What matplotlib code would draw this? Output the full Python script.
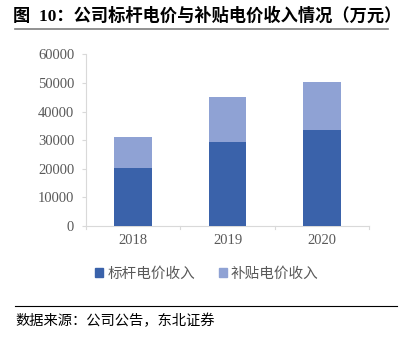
import matplotlib
matplotlib.use("Agg")
import matplotlib.pyplot as plt
from matplotlib.lines import Line2D
from matplotlib.patches import Patch

years = ["2018", "2019", "2020"]
benchmark = [20300, 29500, 33700]
subsidy = [10800, 15700, 16750]
series_names = ["标杆电价收入", "补贴电价收入"]
yticks = [0, 10000, 20000, 30000, 40000, 50000, 60000]

c_dark = "#3A62AA"
c_light = "#8FA2D4"
serif = ["Liberation Serif", "Noto Sans CJK SC"]
cjk = ["Noto Sans CJK SC", "DejaVu Sans"]

W, H = 403, 344
fig = plt.figure(figsize=(W / 100, H / 100), dpi=100)
ax = fig.add_axes([86 / W, 1 - 226 / H, (369 - 86) / W, (226 - 54.3) / H])

x = list(range(len(years)))
ax.bar(x, benchmark, width=0.4, color=c_dark, label=series_names[0], zorder=3)
ax.bar(x, subsidy, width=0.4, bottom=benchmark, color=c_light, label=series_names[1], zorder=3)

ax.set_xlim(-0.5, len(years) - 0.5)
ax.set_ylim(0, 60000)
ax.set_yticks(yticks)
ax.set_yticklabels([str(v) for v in yticks], fontfamily=serif, fontsize=10.5, color="#595959")
ax.set_xticks(x)
ax.set_xticklabels(years, fontfamily=serif, fontsize=10.5, color="#595959")
ax.tick_params(axis="x", length=0, pad=6)
ax.tick_params(axis="y", length=3, color="#D9D9D9", pad=5.5)
for b in [-0.5, 0.5, 1.5, 2.5]:
    ax.plot([b, b], [0, -1200], color="#D9D9D9", lw=0.8, clip_on=False, zorder=1)
for s in ["top", "right"]:
    ax.spines[s].set_visible(False)
ax.spines["left"].set_color("#D9D9D9")
ax.spines["bottom"].set_color("#D9D9D9")
ax.spines["left"].set_linewidth(0.8)
ax.spines["bottom"].set_linewidth(0.8)

handles = [Patch(color=c_dark), Patch(color=c_light)]
leg = fig.legend(handles, series_names, loc="center", bbox_to_anchor=(207 / W, 1 - 274 / H),
                 ncol=2, frameon=False, prop={"family": cjk, "size": 10.5},
                 handlelength=0.55, handleheight=0.55, handletextpad=0.3, columnspacing=1.6)
for t in leg.get_texts():
    t.set_color("#595959")

fig.text(13 / W, 1 - 16 / H, "图  10：公司标杆电价与补贴电价收入情况（万元）",
         fontfamily=["Liberation Serif", "Noto Sans CJK SC"], fontweight="bold",
         fontsize=12.4, va="center", ha="left", color="#000000")
fig.add_artist(Line2D([15 / W, 388 / W], [1 - 28.5 / H, 1 - 28.5 / H], color="#7F7F7F", lw=1.2))
fig.add_artist(Line2D([15 / W, 397 / W], [1 - 306 / H, 1 - 306 / H], color="#000000", lw=0.8))
fig.text(15 / W, 1 - 321 / H, "数据来源：公司公告，东北证券", fontfamily=cjk,
         fontsize=10.3, va="center", ha="left", color="#000000")

fig.savefig("out.png", dpi=100)
